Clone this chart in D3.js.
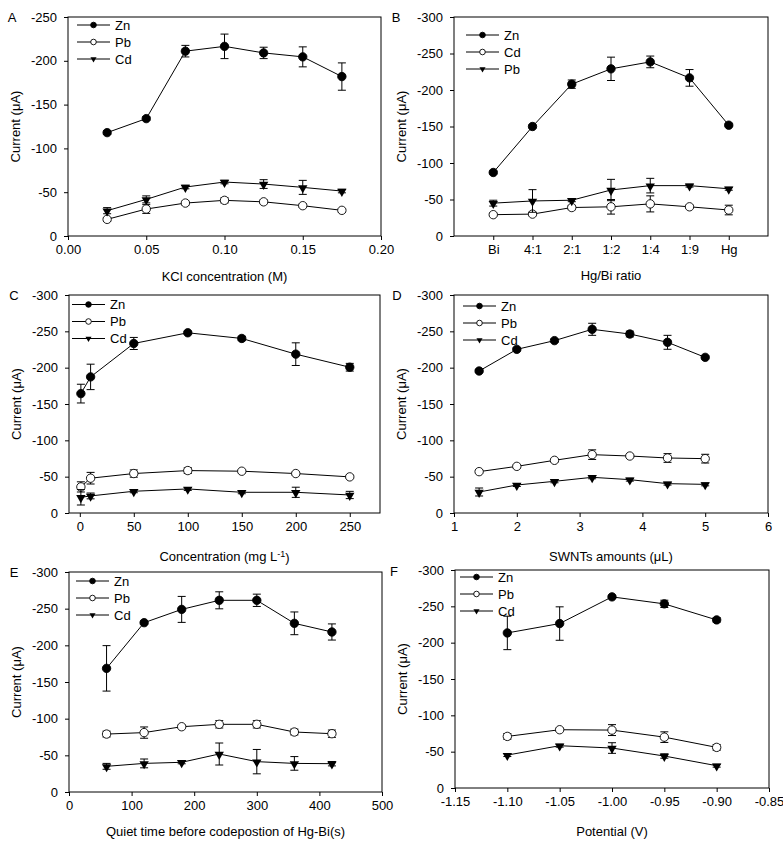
<!DOCTYPE html>
<html>
<head>
<meta charset="utf-8">
<script src="https://cdn.jsdelivr.net/npm/d3@7"></script>
<style>
body { margin: 0; background: #fff; }
text { font-family: "Liberation Sans", Arial, sans-serif; font-size: 13px; fill: #000; }
</style>
</head>
<body>
<svg id="chart" width="783" height="846"></svg>
<script>
// A - KCl concentration
var aX = [0.025, 0.05, 0.075, 0.1, 0.125, 0.15, 0.175];
var aZn = [-118, -134, -211, -216.5, -209, -204.5, -182];
var aZnErr = [2, 2, 6.6, 14, 6.5, 11.4, 15.6];
var aPb = [-19, -30.8, -37.6, -40.7, -39, -34.6, -29.3];
var aPbErr = [2, 5, 2, 3, 2, 2, 2];
var aCd = [-28.9, -41.8, -55.9, -61.6, -59.3, -55.5, -51.3];
var aCdErr = [3.5, 4, 2, 2, 5, 8, 2];

// B - Hg/Bi ratio
var bX = [1, 2, 3, 4, 5, 6, 7];
var bLabels = ["Bi", "4:1", "2:1", "1:2", "1:4", "1:9", "Hg"];
var bZn = [-87, -150, -208, -229, -238.5, -216.6, -151.8];
var bZnErr = [2, 2, 5.7, 16, 8, 11.4, 2];
var bCd = [-29.2, -30, -39, -40, -44, -40, -35.6];
var bCdErr = [2, 2, 3, 10, 11, 2, 6.6];
var bPb = [-45, -48, -49, -63, -69, -69, -64.7];
var bPbErr = [4, 15.5, 2, 14.6, 10, 2, 2];

// C - concentration
var cX = [1, 10, 50, 100, 150, 200, 250];
var cZn = [-164.3, -187.3, -233.3, -248, -240.2, -218.6, -200.6];
var cZnErr = [12.9, 17.5, 8.3, 2, 3, 15.6, 5.3];
var cPb = [-35.9, -47.9, -54.3, -58.4, -57.5, -54.3, -49.7];
var cPbErr = [7, 8, 5, 4, 2, 2, 2];
var cCd = [-21.6, -23.5, -29.9, -33.1, -28.5, -28.5, -24.8];
var cCdErr = [10.6, 4, 2, 2, 2, 7, 5];

// D - SWNTs amount
var dX = [1.4, 2, 2.6, 3.2, 3.8, 4.4, 5];
var dZn = [-195.4, -225.2, -237.2, -252.8, -246.3, -234.9, -214.2];
var dZnErr = [2, 2, 2, 8.3, 4, 9.6, 2];
var dPb = [-56.9, -64.2, -72.5, -80.3, -78.4, -75.7, -74.8];
var dPbErr = [2, 2, 2, 6.6, 2, 6, 6];
var dCd = [-28.9, -38.5, -43.6, -49.1, -45.9, -40.4, -39.4];
var dCdErr = [5.5, 2, 2, 2, 2, 2, 2];

// E - quiet time
var eX = [60, 120, 180, 240, 300, 360, 420];
var eZn = [-168.6, -230.9, -249, -261.4, -261.4, -230, -218.2];
var eZnErr = [31, 2, 17.7, 11.6, 8.4, 15.5, 11];
var ePb = [-79, -81, -89, -92.3, -92.3, -81.8, -79.5];
var ePbErr = [4, 7.7, 2, 5, 5, 4, 5];
var eCd = [-35, -39, -40.5, -51.8, -41.4, -39, -38.6];
var eCdErr = [4, 6, 2, 15, 16.6, 9.3, 3];

// F - potential
var fX = [-1.10, -1.05, -1.00, -0.95, -0.90];
var fZn = [-213.4, -226.3, -263, -253.4, -231.3];
var fZnErr = [23, 23, 2, 5, 3];
var fPb = [-71, -80.2, -79.7, -70, -55.9];
var fPbErr = [4, 2, 7.5, 7.3, 4];
var fCd = [-45.3, -58.2, -55, -44, -30.7];
var fCdErr = [2, 2, 7.3, 3, 2];

var svg = d3.select("#chart");

// panel layout: box edges, axis setup, legend placement
var panels = [
  { letter: "A", lx: 12, ly: 17, left: 68, right: 381, top: 17, bottom: 236,
    xDomain: [0, 0.2], xTicks: d3.range(0, 0.2001, 0.05), xFmt: function(d) { return d.toFixed(2); },
    yMax: -250, xTitle: "KCl concentration (M)", titleOff: 40,
    x: aX, names: ["Zn", "Pb", "Cd"], ys: [aZn, aPb, aCd], errs: [aZnErr, aPbErr, aCdErr],
    legX: 9, legY: 8 },
  { letter: "B", lx: 396, ly: 17, left: 454, right: 768, top: 17, bottom: 236,
    xDomain: [0, 8], xTicks: bX, xFmt: function(d) { return bLabels[d - 1]; },
    yMax: -300, xTitle: "Hg/Bi ratio", titleOff: 39,
    x: bX, names: ["Zn", "Cd", "Pb"], ys: [bZn, bCd, bPb], errs: [bZnErr, bCdErr, bPbErr],
    legX: 12, legY: 18 },
  { letter: "C", lx: 14, ly: 295, left: 69, right: 380, top: 295, bottom: 513,
    xDomain: [-10, 278], xTicks: d3.range(0, 251, 50), xFmt: function(d) { return String(d); },
    yMax: -300, xTitle: "Concentration (mg L", sup: "-1", titleOff: 43,
    x: cX, names: ["Zn", "Pb", "Cd"], ys: [cZn, cPb, cCd], errs: [cZnErr, cPbErr, cCdErr],
    legX: 3, legY: 9.5 },
  { letter: "D", lx: 397, ly: 295, left: 454, right: 768, top: 295, bottom: 513,
    xDomain: [1, 6], xTicks: [1, 2, 3, 4, 5, 6], xFmt: function(d) { return String(d); },
    yMax: -300, xTitle: "SWNTs amounts (\u03bcL)", titleOff: 43,
    x: dX, names: ["Zn", "Pb", "Cd"], ys: [dZn, dPb, dCd], errs: [dZnErr, dPbErr, dCdErr],
    legX: 9, legY: 11 },
  { letter: "E", lx: 14, ly: 572, left: 69, right: 382, top: 572, bottom: 792,
    xDomain: [0, 500], xTicks: d3.range(0, 501, 100), xFmt: function(d) { return String(d); },
    yMax: -300, xTitle: "Quiet time before codepostion of Hg-Bi(s)", titleOff: 39,
    x: eX, names: ["Zn", "Pb", "Cd"], ys: [eZn, ePb, eCd], errs: [eZnErr, ePbErr, eCdErr],
    legX: 7, legY: 9 },
  { letter: "F", lx: 394, ly: 571, left: 455, right: 769, top: 570, bottom: 788,
    xDomain: [-1.15, -0.85], xTicks: [-1.15, -1.10, -1.05, -1.00, -0.95, -0.90, -0.85],
    xFmt: function(d) { return d.toFixed(2); },
    yMax: -300, xTitle: "Potential (V)", titleOff: 43,
    x: fX, names: ["Zn", "Pb", "Cd"], ys: [fZn, fPb, fCd], errs: [fZnErr, fPbErr, fCdErr],
    legX: 5, legY: 7 }
];

var tri = d3.symbol().type(d3.symbolTriangle);

// marker kind: 0 filled circle, 1 open circle, 2 filled down triangle
function drawMarker(g, kind, cx, cy, big) {
  if (kind === 2) {
    g.append("path")
      .attr("d", tri.size(big ? 38 : 16)())
      .attr("transform", "translate(" + cx + "," + (cy + (big ? 0.5 : 0)) + ") rotate(180)")
      .attr("fill", "#000");
  } else {
    g.append("circle")
      .attr("cx", cx).attr("cy", cy)
      .attr("r", big ? 4.2 : 2.8)
      .attr("fill", kind === 0 ? "#000" : "#fff")
      .attr("stroke", "#000").attr("stroke-width", 0.9);
  }
}

panels.forEach(function(p) {
  var xScale = d3.scaleLinear().domain(p.xDomain).range([p.left, p.right]);
  var yScale = d3.scaleLinear().domain([0, p.yMax]).range([p.bottom, p.top]);
  var g = svg.append("g");

  // axes
  g.append("g")
    .attr("transform", "translate(0," + p.bottom + ")")
    .call(d3.axisBottom(xScale).tickValues(p.xTicks).tickFormat(p.xFmt)
      .tickSize(4).tickSizeOuter(0).tickPadding(5))
    .call(function(s) { s.select(".domain").remove(); s.selectAll("text").style("font-size", "13px"); });
  g.append("g")
    .attr("transform", "translate(" + p.left + ",0)")
    .call(d3.axisLeft(yScale).tickValues(d3.range(0, p.yMax - 1, -50)).tickFormat(function(d) { return String(d); })
      .tickSize(4).tickSizeOuter(0).tickPadding(7))
    .call(function(s) { s.select(".domain").remove(); s.selectAll("text").style("font-size", "13px"); });

  g.append("rect")
    .attr("x", p.left).attr("y", p.top)
    .attr("width", p.right - p.left).attr("height", p.bottom - p.top)
    .attr("fill", "none").attr("stroke", "#000").attr("stroke-width", 1);

  // titles
  var xt = g.append("text")
    .attr("x", (p.left + p.right) / 2).attr("y", p.bottom + p.titleOff)
    .attr("dy", "0.35em").attr("text-anchor", "middle")
    .text(p.xTitle);
  if (p.sup) {
    xt.append("tspan").attr("dy", "-0.4em").style("font-size", "9px").text(p.sup);
    xt.append("tspan").attr("dy", "0.4em").text(")");
  }
  g.append("text")
    .attr("transform", "translate(" + (p.left - 52.5) + "," + ((p.top + p.bottom) / 2) + ") rotate(-90)")
    .attr("dy", "0.35em").attr("text-anchor", "middle")
    .text("Current (\u03bcA)");
  g.append("text")
    .attr("x", p.lx).attr("y", p.ly).attr("dy", "0.35em").attr("text-anchor", "middle")
    .text(p.letter);

  // series
  var line = d3.line()
    .x(function(d) { return xScale(d[0]); })
    .y(function(d) { return yScale(d[1]); });

  p.ys.forEach(function(ys, k) {
    var pts = p.x.map(function(xv, i) { return [xv, ys[i], p.errs[k][i]]; });
    g.append("path").datum(pts).attr("d", line)
      .attr("fill", "none").attr("stroke", "#000").attr("stroke-width", 1);
  });
  p.ys.forEach(function(ys, k) {
    var pts = p.x.map(function(xv, i) { return [xv, ys[i], p.errs[k][i]]; });
    pts.forEach(function(d) {
      var cx = xScale(d[0]), y1 = yScale(d[1] - d[2]), y2 = yScale(d[1] + d[2]);
      var eb = g.append("g").attr("stroke", "#000").attr("stroke-width", 1);
      eb.append("line").attr("x1", cx).attr("x2", cx).attr("y1", y1).attr("y2", y2);
      eb.append("line").attr("x1", cx - 4).attr("x2", cx + 4).attr("y1", y1).attr("y2", y1);
      eb.append("line").attr("x1", cx - 4).attr("x2", cx + 4).attr("y1", y2).attr("y2", y2);
    });
    pts.forEach(function(d) {
      drawMarker(g, k, xScale(d[0]), yScale(d[1]), true);
    });
  });

  // legend
  p.names.forEach(function(name, k) {
    var ly = p.top + p.legY + k * 17;
    var lx = p.left + p.legX;
    g.append("line").attr("x1", lx).attr("x2", lx + 33).attr("y1", ly).attr("y2", ly)
      .attr("stroke", "#000").attr("stroke-width", 1);
    drawMarker(g, k, lx + 16.5, ly, false);
    g.append("text").attr("x", lx + 38).attr("y", ly).attr("dy", "0.35em").text(name);
  });
});
</script>
</body>
</html>
